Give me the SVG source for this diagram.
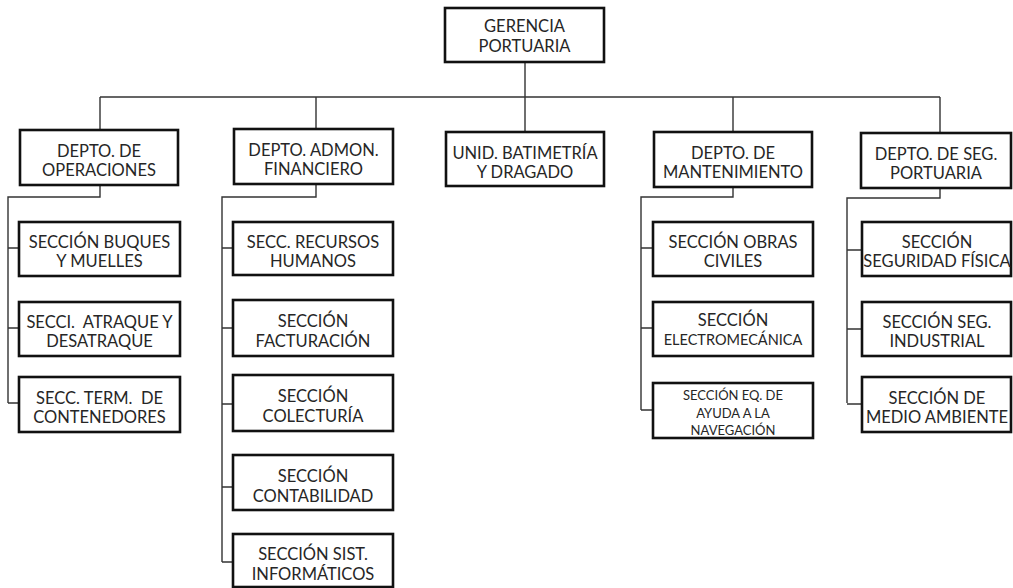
<svg xmlns="http://www.w3.org/2000/svg" width="1013" height="588" viewBox="0 0 1013 588">
<style>
.box{fill:#fff;stroke:#111;stroke-width:2.6}
.t{font-family:Lato,"Open Sans","Liberation Sans",sans-serif;font-size:16.5px;fill:#262626;text-anchor:middle;white-space:pre}
.s{font-size:14.5px}
.xs{font-size:13px}
.c{fill:none;stroke:#333;stroke-width:1.4}
</style>
<rect width="1013" height="588" fill="#fff"/>
<g id="connectors">
<path class="c" d="M525 62V97M100 97H940M100 97V130M316 97V129M525 97V132M733 97V132M940 97V133"/>
<path class="c" d="M100 185V197H8V403M8 248H19M8 328H19M8 403H19"/>
<path class="c" d="M316 184V197H222V562M222 248H233M222 328H233M222 404H233M222 487H233M222 562H233"/>
<path class="c" d="M733 187V197H641V410M641 248H653M641 328H653M641 410H653"/>
<path class="c" d="M940 188V198H847V403M847 250H862M847 329H862M847 404H862"/>
</g>
<g id="gerencia"><rect class="box" x="445" y="8" width="159" height="54"/><text class="t" x="524.5" y="32">GERENCIA</text><text class="t" x="524.5" y="52">PORTUARIA</text></g>
<g id="operaciones"><rect class="box" x="20" y="130" width="158" height="55"/><text class="t" x="99" y="157">DEPTO. DE</text><text class="t" x="99" y="176">OPERACIONES</text></g>
<g id="admon"><rect class="box" x="234" y="129" width="159" height="55"/><text class="t" x="313.5" y="156">DEPTO. ADMON.</text><text class="t" x="313.5" y="175">FINANCIERO</text></g>
<g id="batimetria"><rect class="box" x="446" y="132" width="158" height="54"/><text class="t" x="525" y="159">UNID. BATIMETRÍA</text><text class="t" x="525" y="178">Y DRAGADO</text></g>
<g id="mantenimiento"><rect class="box" x="654" y="132" width="158" height="55"/><text class="t" x="733" y="159">DEPTO. DE</text><text class="t" x="733" y="178">MANTENIMIENTO</text></g>
<g id="seguridad"><rect class="box" x="861" y="133" width="150" height="55"/><text class="t" x="936" y="160">DEPTO. DE SEG.</text><text class="t" x="936" y="179">PORTUARIA</text></g>

<g id="buques"><rect class="box" x="19" y="222" width="161" height="54"/><text class="t" x="99.5" y="248">SECCIÓN BUQUES</text><text class="t" x="99.5" y="267">Y MUELLES</text></g>
<g id="atraque"><rect class="box" x="19" y="302" width="161" height="54"/><text class="t" x="99.5" y="328">SECCI.  ATRAQUE Y</text><text class="t" x="99.5" y="347">DESATRAQUE</text></g>
<g id="contenedores"><rect class="box" x="19" y="377" width="161" height="55"/><text class="t" x="99.5" y="404">SECC. TERM.  DE</text><text class="t" x="99.5" y="423">CONTENEDORES</text></g>

<g id="rrhh"><rect class="box" x="233" y="222" width="160" height="53"/><text class="t" x="313" y="248">SECC. RECURSOS</text><text class="t" x="313" y="267">HUMANOS</text></g>
<g id="facturacion"><rect class="box" x="233" y="300" width="160" height="56"/><text class="t" x="313" y="327">SECCIÓN</text><text class="t" x="313" y="347">FACTURACIÓN</text></g>
<g id="colecturia"><rect class="box" x="233" y="375" width="160" height="56"/><text class="t" x="313" y="402">SECCIÓN</text><text class="t" x="313" y="422">COLECTURÍA</text></g>
<g id="contabilidad"><rect class="box" x="233" y="455" width="160" height="55"/><text class="t" x="313" y="482">SECCIÓN</text><text class="t" x="313" y="502">CONTABILIDAD</text></g>
<g id="informaticos"><rect class="box" x="233" y="534" width="160" height="53"/><text class="t" x="313" y="560">SECCIÓN SIST.</text><text class="t" x="313" y="580">INFORMÁTICOS</text></g>

<g id="obras"><rect class="box" x="653" y="222" width="160" height="54"/><text class="t" x="733" y="248">SECCIÓN OBRAS</text><text class="t" x="733" y="267">CIVILES</text></g>
<g id="electromecanica"><rect class="box" x="653" y="302" width="160" height="54"/><text class="t" x="733" y="326">SECCIÓN</text><text class="t s" x="733" y="345">ELECTROMECÁNICA</text></g>
<g id="navegacion"><rect class="box" x="653" y="383" width="160" height="55"/><text class="t xs" x="733" y="400">SECCIÓN EQ. DE</text><text class="t xs" x="733" y="418">AYUDA A LA</text><text class="t xs" x="733" y="435">NAVEGACIÓN</text></g>

<g id="fisica"><rect class="box" x="862" y="222" width="149" height="54"/><text class="t" x="937" y="248">SECCIÓN</text><text class="t" x="937" y="267">SEGURIDAD FÍSICA</text></g>
<g id="industrial"><rect class="box" x="862" y="302" width="149" height="54"/><text class="t" x="937" y="328">SECCIÓN SEG.</text><text class="t" x="937" y="347">INDUSTRIAL</text></g>
<g id="ambiente"><rect class="box" x="862" y="377" width="149" height="55"/><text class="t" x="937" y="404">SECCIÓN DE</text><text class="t" x="937" y="423">MEDIO AMBIENTE</text></g>
</svg>
